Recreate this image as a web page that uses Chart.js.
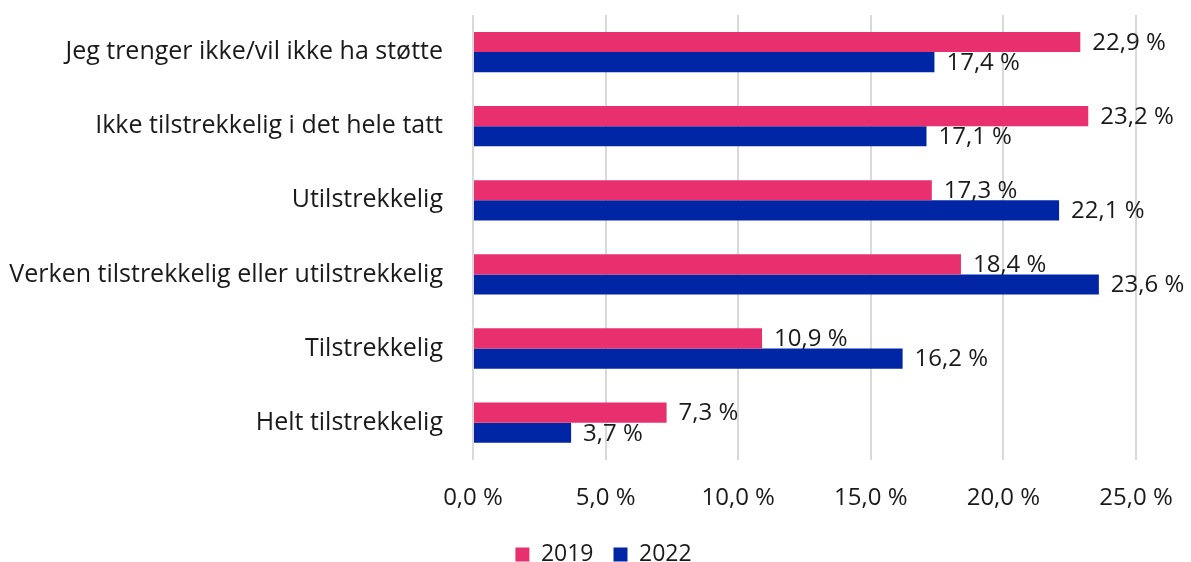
<!DOCTYPE html>
<html>
<head>
<meta charset="utf-8">
<script src="https://cdn.jsdelivr.net/npm/chart.js@4/dist/chart.umd.min.js"></script>
<style>
  html, body { margin: 0; padding: 0; background: #ffffff; }
  #wrap { width: 1191px; height: 562px; position: relative; }
</style>
</head>
<body>
<div id="wrap"><canvas id="c" width="1191" height="562"></canvas></div>
<script>
const categories = [
  "Jeg trenger ikke/vil ikke ha støtte",
  "Ikke tilstrekkelig i det hele tatt",
  "Utilstrekkelig",
  "Verken tilstrekkelig eller utilstrekkelig",
  "Tilstrekkelig",
  "Helt tilstrekkelig"
];
const seriesNames = ["2019", "2022"];
const values2019 = [22.9, 23.2, 17.3, 18.4, 10.9, 7.3];
const values2022 = [17.4, 17.1, 22.1, 23.6, 16.2, 3.7];
const colors = ["#E8306F", "#0026A6"];

const FONT = "'Open Sans', 'DejaVu Sans', sans-serif";
const fmt = v => v.toFixed(1).replace('.', ',') + ' %';

const labelPlugin = {
  id: 'valueLabels',
  afterLayout(chart) {
    // nudge the legend so that it is centred like the original
    chart.legend.left += 31.5;
    chart.legend.right += 31.5;
  },
  afterDatasetsDraw(chart) {
    const ctx = chart.ctx;
    ctx.save();
    ctx.font = "24px " + FONT;
    ctx.fillStyle = "#1a1a1a";
    ctx.textAlign = "left";
    ctx.textBaseline = "middle";
    chart.data.datasets.forEach((ds, di) => {
      const meta = chart.getDatasetMeta(di);
      meta.data.forEach((el, i) => {
        ctx.fillText(fmt(ds.data[i]), el.x + 12, el.y + 1);
      });
    });
    ctx.restore();
  }
};

new Chart(document.getElementById('c'), {
  type: 'bar',
  data: {
    labels: categories,
    datasets: [
      { label: seriesNames[0], data: values2019, backgroundColor: colors[0], categoryPercentage: 0.544, barPercentage: 1.0 },
      { label: seriesNames[1], data: values2022, backgroundColor: colors[1], categoryPercentage: 0.544, barPercentage: 1.0 }
    ]
  },
  options: {
    indexAxis: 'y',
    responsive: false,
    animation: false,
    layout: { padding: { top: 0, right: 55, bottom: -14, left: 8 } },
    scales: {
      x: {
        min: 0, max: 25,
        ticks: { stepSize: 5, callback: v => fmt(v), font: { size: 24, family: FONT }, color: "#1a1a1a", padding: 10 },
        grid: { color: "#d9d9d9", lineWidth: 2, drawTicks: true, tickLength: 14.5, tickColor: "rgba(0,0,0,0)" },
        border: { display: false }
      },
      y: {
        ticks: { font: { size: 25, family: FONT }, color: "#1a1a1a", padding: 0 },
        grid: { display: false, drawTicks: true, tickLength: 30 },
        border: { display: false },
        afterFit(scale) { scale.width = 465; }
      }
    },
    plugins: {
      legend: {
        position: 'bottom',
        labels: { boxWidth: 14, boxHeight: 14, font: { size: 23, family: FONT }, color: "#1a1a1a", padding: 20 }
      },
      tooltip: { enabled: false }
    }
  },
  plugins: [labelPlugin]
});
</script>
</body>
</html>
